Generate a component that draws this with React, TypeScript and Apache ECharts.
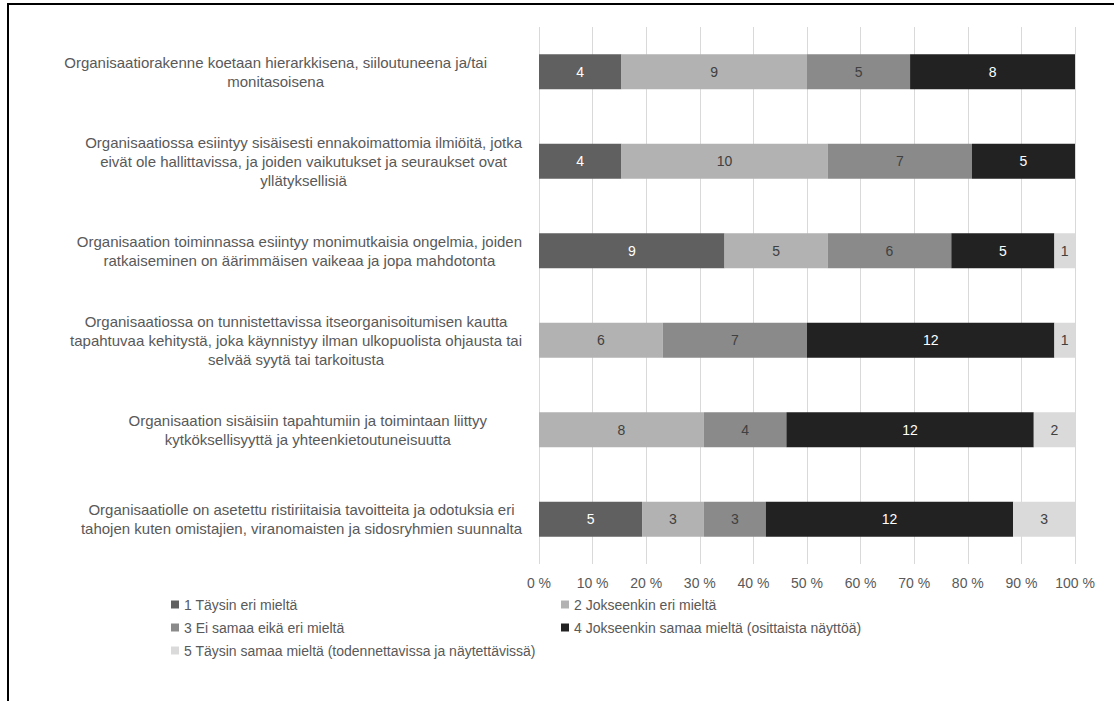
import { useEffect, useRef } from 'react';
import * as echarts from 'echarts';

// Survey statements (y axis, top to bottom)
const categories = [
  'Organisaatiorakenne koetaan hierarkkisena, siiloutuneena ja/tai\nmonitasoisena',
  'Organisaatiossa esiintyy sisäisesti ennakoimattomia ilmiöitä, jotka\neivät ole hallittavissa, ja joiden vaikutukset ja seuraukset ovat\nyllätyksellisiä',
  'Organisaation toiminnassa esiintyy monimutkaisia ongelmia, joiden\nratkaiseminen on äärimmäisen vaikeaa ja jopa mahdotonta',
  'Organisaatiossa on tunnistettavissa itseorganisoitumisen kautta\ntapahtuvaa kehitystä, joka käynnistyy ilman ulkopuolista ohjausta tai\nselvää syytä tai tarkoitusta',
  'Organisaation sisäisiin tapahtumiin ja toimintaan liittyy\nkytköksellisyyttä ja yhteenkietoutuneisuutta',
  'Organisaatiolle on asetettu ristiriitaisia tavoitteita ja odotuksia eri\ntahojen kuten omistajien, viranomaisten ja sidosryhmien suunnalta',
];

// Answer scale
const seriesNames = [
  '1 Täysin eri mieltä',
  '2 Jokseenkin eri mieltä',
  '3 Ei samaa eikä eri mieltä',
  '4 Jokseenkin samaa mieltä (osittaista näyttöä)',
  '5 Täysin samaa mieltä (todennettavissa ja näytettävissä)',
];

// Number of respondents per answer, one entry per statement
const answer1 = [4, 4, 9, 0, 0, 5];
const answer2 = [9, 10, 5, 6, 8, 3];
const answer3 = [5, 7, 6, 7, 4, 3];
const answer4 = [8, 5, 5, 12, 12, 12];
const answer5 = [0, 0, 1, 1, 2, 3];

const xTickLabels = ['0 %', '10 %', '20 %', '30 %', '40 %', '50 %', '60 %', '70 %', '80 %', '90 %', '100 %'];

const counts = [answer1, answer2, answer3, answer4, answer5];
const colors = ['#606060', '#b2b2b2', '#8a8a8a', '#222222', '#dadada'];
const labelColors = ['#ffffff', '#404040', '#404040', '#ffffff', '#404040'];

const FONT = '"Liberation Sans", Arial, sans-serif';
const TEXT = '#595959';

export default function App() {
  const ref = useRef<HTMLDivElement>(null);

  useEffect(() => {
    if (!ref.current) return;
    const chart = echarts.init(ref.current, undefined, { renderer: 'svg' });

    const totals = categories.map((_, i) => counts.reduce((s, arr) => s + arr[i], 0));

    const series = counts.map((arr, si) => ({
      name: seriesNames[si],
      type: 'bar',
      stack: 'total',
      barWidth: 35,
      itemStyle: { color: colors[si] },
      label: {
        show: true,
        position: 'inside',
        color: labelColors[si],
        fontFamily: FONT,
        fontSize: 14,
        formatter: (p: any) => String(counts[p.seriesIndex][p.dataIndex]),
      },
      emphasis: { disabled: true },
      data: arr.map((c, i) => (c > 0 ? (c / totals[i]) * 100 : null)),
    }));

    const legendText = { color: TEXT, fontSize: 14, fontFamily: FONT, lineHeight: 15 };

    chart.setOption({
      animation: false,
      textStyle: { fontFamily: FONT },
      grid: { left: 539, right: 39, top: 27, bottom: 137, containLabel: false },
      xAxis: {
        type: 'value',
        min: 0,
        max: 100,
        interval: 10,
        axisLine: { show: false },
        axisTick: { show: false },
        splitLine: { show: true, lineStyle: { color: '#d9d9d9', width: 1 } },
        axisLabel: {
          color: TEXT,
          fontSize: 14,
          fontFamily: FONT,
          margin: 12,
          formatter: (v: number) => xTickLabels[Math.round(v / 10)],
        },
      },
      yAxis: {
        type: 'category',
        inverse: true,
        data: categories,
        axisLine: { show: false },
        axisTick: { show: false },
        axisLabel: {
          margin: 17,
          align: 'right',
          formatter: (v: string, i: number) => {
            const style = i === 0 || i === 4 ? 'p' : 'c';
            return v
              .split('\n')
              .map((line) => `{${style}|${line}}`)
              .join('\n');
          },
          rich: {
            c: { align: 'center', color: TEXT, fontSize: 15, fontFamily: FONT, lineHeight: 19 },
            p: {
              align: 'center',
              color: TEXT,
              fontSize: 15,
              fontFamily: FONT,
              lineHeight: 19,
              padding: [0, 35, 0, 0],
            },
          },
        },
      },
      legend: [
        {
          orient: 'vertical',
          left: 166,
          top: 592,
          itemWidth: 8,
          itemHeight: 8,
          icon: 'rect',
          itemGap: 8,
          selectedMode: false,
          textStyle: legendText,
          data: [seriesNames[0], seriesNames[2], seriesNames[4]],
        },
        {
          orient: 'vertical',
          left: 556,
          top: 592,
          itemWidth: 8,
          itemHeight: 8,
          icon: 'rect',
          itemGap: 8,
          selectedMode: false,
          textStyle: legendText,
          data: [seriesNames[1], seriesNames[3]],
        },
      ],
      graphic: [
        {
          type: 'line',
          silent: true,
          shape: { x1: 8, y1: 4, x2: 8, y2: 701 },
          style: { stroke: '#000000', lineWidth: 2 },
        },
        {
          type: 'line',
          silent: true,
          shape: { x1: 7, y1: 4, x2: 1114, y2: 4 },
          style: { stroke: '#000000', lineWidth: 2 },
        },
      ],
      series,
    });

    return () => chart.dispose();
  }, []);

  return (
    <div
      ref={ref}
      style={{ position: 'fixed', left: 0, top: 0, width: 1114, height: 701, background: '#ffffff' }}
    />
  );
}
